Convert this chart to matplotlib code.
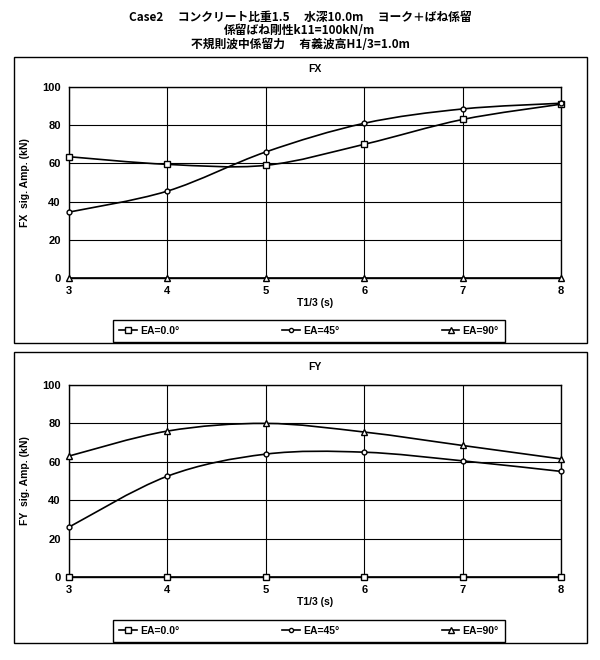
import matplotlib
matplotlib.use("Agg")
import matplotlib.pyplot as plt
from matplotlib.patches import Rectangle, PathPatch
from matplotlib.path import Path
from matplotlib.lines import Line2D

plt.rcParams["font.family"] = ["Liberation Sans", "Noto Sans CJK JP", "DejaVu Sans"]

period = [3, 4, 5, 6, 7, 8]
series_labels = ["EA=0.0°", "EA=45°", "EA=90°"]
markers = ["s", "o", "^"]
marker_sizes = [4.5, 3.5, 4.5]

fx_ea0 = [63.5, 59.5, 59.0, 70.0, 83.0, 91.0]
fx_ea45 = [34.5, 45.5, 66.0, 81.0, 88.5, 91.5]
fx_ea90 = [0, 0, 0, 0, 0, 0]

fy_ea0 = [0, 0, 0, 0, 0, 0]
fy_ea45 = [26.0, 52.5, 64.0, 65.0, 60.5, 55.0]
fy_ea90 = [63.0, 76.0, 80.0, 75.5, 68.5, 61.5]

title_lines = [
    "Case2　 コンクリート比重1.5　 水深10.0m　 ヨーク＋ばね係留",
    "係留ばね剛性k11=100kN/m",
    "不規則波中係留力　 有義波高H1/3=1.0m",
]


def smooth_path(x, y):
    # Excel-style smoothed line: Catmull-Rom segments as cubic Bezier
    n = len(x)
    verts = [(x[0], y[0])]
    codes = [Path.MOVETO]
    for i in range(n - 1):
        x0, y0 = (x[i - 1], y[i - 1]) if i > 0 else (x[i], y[i])
        x3, y3 = (x[i + 2], y[i + 2]) if i + 2 < n else (x[i + 1], y[i + 1])
        c1 = (x[i] + (x[i + 1] - x0) / 6, y[i] + (y[i + 1] - y0) / 6)
        c2 = (x[i + 1] - (x3 - x[i]) / 6, y[i + 1] - (y3 - y[i]) / 6)
        verts += [c1, c2, (x[i + 1], y[i + 1])]
        codes += [Path.CURVE4] * 3
    return Path(verts, codes)


def draw_panel(ax, name, values):
    for vals, m, ms in zip(values, markers, marker_sizes):
        ax.add_patch(PathPatch(smooth_path(period, vals), fill=False,
                               edgecolor="black", lw=1.2, zorder=3))
        ax.plot(period, vals, ls="none", marker=m, ms=ms, mfc="white",
                mec="black", mew=1.0, zorder=4, clip_on=False)
    ax.set_xlim(3, 8)
    ax.set_ylim(0, 100)
    ax.set_xticks(period)
    ax.set_yticks(range(0, 101, 20))
    ax.grid(True, color="black", lw=0.8)
    ax.set_axisbelow(True)
    for s in ax.spines.values():
        s.set_linewidth(1.0)
    ax.tick_params(length=0, labelsize=8, pad=6)
    for lab in ax.get_xticklabels() + ax.get_yticklabels():
        lab.set_fontweight("bold")
    ax.set_xlabel("T1/3 (s)", fontsize=7.5, fontweight="bold", labelpad=1)
    ax.set_ylabel(f"{name}  sig. Amp. (kN)", fontsize=7.5, fontweight="bold", labelpad=9)
    ax.set_title(name, fontsize=7.5, fontweight="bold", pad=11)


fig = plt.figure(figsize=(6, 6.6), dpi=100)

for i, line in enumerate(title_lines):
    fig.text(0.5, 1 - (17 + 14 * i) / 660, line, ha="center", va="center",
             fontsize=8.5, fontweight="bold",
             family=["Noto Sans CJK JP", "DejaVu Sans"])

ax1 = fig.add_axes([69 / 600, 1 - 278 / 660, 492 / 600, 191 / 660])
ax2 = fig.add_axes([69 / 600, 1 - 577 / 660, 492 / 600, 192 / 660])
draw_panel(ax1, "FX", [fx_ea0, fx_ea45, fx_ea90])
draw_panel(ax2, "FY", [fy_ea0, fy_ea45, fy_ea90])

# outer panel frames
for top, bottom in [(57, 343), (352, 643)]:
    fig.add_artist(Rectangle((14 / 600, 1 - bottom / 660), 573 / 600, (bottom - top) / 660,
                             transform=fig.transFigure, fill=False, lw=1.0, ec="black"))

handles = [Line2D([], [], color="black", lw=1.2, marker=m, ms=ms - 0.5, mfc="white", mec="black")
           for m, ms in zip(markers, marker_sizes)]
for bottom in [343, 643]:
    leg = fig.legend(handles, series_labels, ncol=3, mode="expand", loc="center",
                     bbox_to_anchor=(113 / 600, 1 - bottom / 660, 392 / 600, 24 / 660),
                     fancybox=False, edgecolor="black", framealpha=1,
                     prop={"size": 7.5, "weight": "bold"}, handlelength=1.7,
                     handletextpad=0.3, borderpad=0.6, borderaxespad=0.0)
    leg.get_frame().set_linewidth(1.0)

fig.savefig("out.png", dpi=100)
